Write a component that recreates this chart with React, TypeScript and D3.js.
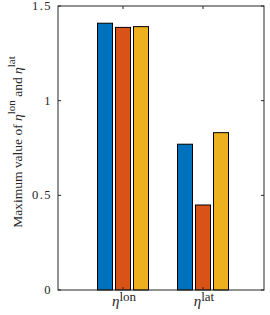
import React from "react";
import * as d3 from "d3";

const categories = ["lon", "lat"];
const seriesNames = ["s1", "s2", "s3"];
const seriesColors = ["#0072BD", "#D95319", "#EDB120"];
const values = [
  [1.409, 1.387, 1.391],
  [0.77, 0.449, 0.831],
];
const yTicks = [0, 0.5, 1, 1.5];
const yTickLabels = ["0", "0.5", "1", "1.5"];

const W = 270;
const H = 315;
const L = 58, R = 264, T = 6, B = 290;

const font = "Liberation Serif, Times New Roman, DejaVu Serif, serif";

export default function App() {
  const x = d3.scaleLinear().domain([0.1875, 2.7625]).range([L, R]);
  const y = d3.scaleLinear().domain([0, 1.5]).range([B, T]);
  const groupW = x(1.675) - x(1);
  const inner = d3
    .scaleBand<string>()
    .domain(seriesNames)
    .range([-groupW / 2, groupW / 2])
    .paddingInner(1 / 6)
    .paddingOuter(1 / 12);
  const axisColor = "#262626";
  const ts = { fontFamily: font };
  return (
    <svg
      width={W}
      height={H}
      style={{ position: "absolute", left: 0, top: 0, background: "#fff", fontFamily: font }}
    >
      {values.map((row, gi) =>
        row.map((v, si) => {
          const cx = x(gi + 1);
          const bx = cx + (inner(seriesNames[si]) as number);
          return (
            <rect
              key={gi + "-" + si}
              x={bx}
              y={y(v)}
              width={inner.bandwidth()}
              height={y(0) - y(v)}
              fill={seriesColors[si]}
              stroke="#000"
              strokeWidth={1}
            />
          );
        })
      )}
      <rect x={L} y={T} width={R - L} height={B - T} fill="none" stroke={axisColor} strokeWidth={1} />
      {yTicks.map((t, i) => (
        <g key={"yt" + i}>
          <line x1={L} x2={L + 3} y1={y(t)} y2={y(t)} stroke={axisColor} />
          <line x1={R} x2={R - 3} y1={y(t)} y2={y(t)} stroke={axisColor} />
          <text
            x={L - 6}
            y={y(t) + 4}
            textAnchor="end"
            fontSize={12.5}
            letterSpacing={1.5}
            fill={axisColor}
            style={ts}
          >
            {yTickLabels[i]}
          </text>
        </g>
      ))}
      {categories.map((c, i) => (
        <g key={"xt" + i}>
          <line x1={x(i + 1)} x2={x(i + 1)} y1={B} y2={B - 3} stroke={axisColor} />
          <line x1={x(i + 1)} x2={x(i + 1)} y1={T} y2={T + 3} stroke={axisColor} />
          <text x={x(i + 1) + 1} y={306} textAnchor="middle" fill={axisColor} fontSize={15} style={ts}>
            <tspan fontStyle="italic">η</tspan>
            <tspan fontSize={13} dy={-5}>{c}</tspan>
          </text>
        </g>
      ))}
      <text
        transform={`translate(22, 142) rotate(-90)`}
        textAnchor="middle"
        fontSize={13.5}
        fill={axisColor}
        style={ts}
      >
        <tspan>Maximum value of </tspan>
        <tspan fontStyle="italic">η</tspan>
        <tspan fontSize={11} dy={-7}>lon</tspan>
        <tspan dy={7}> and </tspan>
        <tspan fontStyle="italic">η</tspan>
        <tspan fontSize={11} dy={-7}>lat</tspan>
      </text>
    </svg>
  );
}
